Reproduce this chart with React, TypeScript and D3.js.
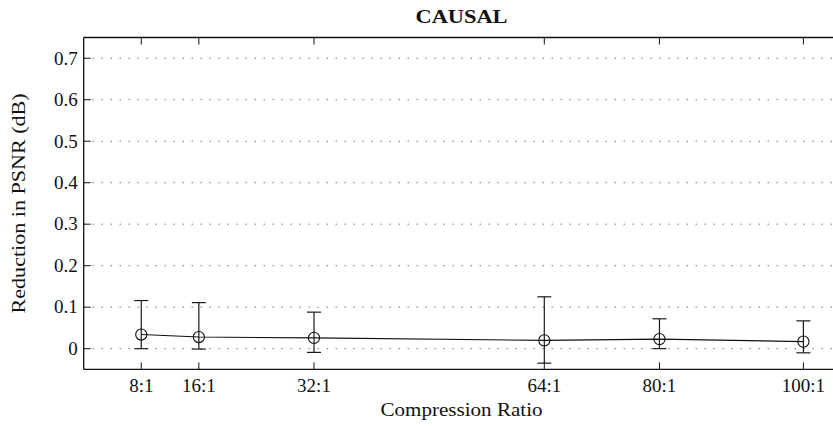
import React from "react";
import * as d3 from "d3";

// Compression ratios (N:1) and the mean PSNR reduction with its error range
const ratios = [8, 16, 32, 64, 80, 100];
const ratioLabels = ["8:1", "16:1", "32:1", "64:1", "80:1", "100:1"];
const meanReduction = [0.034, 0.028, 0.026, 0.02, 0.023, 0.017];
const upperBound = [0.116, 0.111, 0.088, 0.125, 0.072, 0.067];
const lowerBound = [0.0, -0.001, -0.009, -0.035, 0.0, -0.01];
const yTicks = [0, 0.1, 0.2, 0.3, 0.4, 0.5, 0.6, 0.7];

const W = 833;
const H = 426;
const FONT = "'Liberation Serif', 'DejaVu Serif', serif";
const FS = 19;

export default function App() {
  const left = 83.7;
  const top = 37.5;
  const bottom = 369.4;
  const x = d3.scaleLinear().domain([0, 105]).range([left, left + 105 * 7.197]);
  const right = x(105);
  const y = d3.scaleLinear().domain([-0.05, 0.75]).range([bottom, top]);
  const cx = (left + right) / 2;

  const line = d3
    .line<number>()
    .x((_, i) => x(ratios[i]))
    .y((d) => y(d));

  const tickLen = 7;
  const capHalf = 7;
  const ink = "#111";

  return (
    <svg
      width={W}
      height={H}
      style={{ position: "absolute", left: 0, top: 0, background: "#fff" }}
      fontFamily={FONT}
    >
      {/* horizontal dotted grid */}
      {yTicks.map((t) => (
        <line
          key={"g" + t}
          x1={left}
          x2={right}
          y1={y(t)}
          y2={y(t)}
          stroke="#333"
          strokeWidth={1}
          strokeDasharray="1,8"
        />
      ))}

      {/* frame */}
      <line x1={left} x2={left} y1={top} y2={bottom} stroke={ink} strokeWidth={1.3} />
      <line x1={left} x2={right} y1={top} y2={top} stroke={ink} strokeWidth={1.3} />
      <line x1={left} x2={right} y1={bottom} y2={bottom} stroke={ink} strokeWidth={1.3} />

      {/* y ticks and labels */}
      {yTicks.map((t) => (
        <g key={"y" + t}>
          <line x1={left} x2={left + tickLen} y1={y(t)} y2={y(t)} stroke={ink} strokeWidth={1} />
          <text x={left - 6} y={y(t) + 6.3} textAnchor="end" fontSize={FS} fill="#111">
            {t === 0 ? "0" : d3.format(".1f")(t)}
          </text>
        </g>
      ))}

      {/* x ticks (bottom and top) and labels */}
      {ratios.map((r, i) => (
        <g key={"x" + r}>
          <line x1={x(r)} x2={x(r)} y1={bottom} y2={bottom - tickLen} stroke={ink} strokeWidth={1} />
          <line x1={x(r)} x2={x(r)} y1={top} y2={top + tickLen} stroke={ink} strokeWidth={1} />
          <text x={x(r)} y={391.8} textAnchor="middle" fontSize={FS} fill="#111">
            {ratioLabels[i]}
          </text>
        </g>
      ))}

      {/* mean line */}
      <path d={line(meanReduction) || ""} fill="none" stroke={ink} strokeWidth={1.1} />

      {/* error bars and markers */}
      {ratios.map((r, i) => {
        const px = x(r);
        return (
          <g key={"e" + r} stroke="#1a1a1a" strokeWidth={1.2} fill="none">
            <line x1={px} x2={px} y1={y(upperBound[i])} y2={y(lowerBound[i])} />
            <line x1={px - capHalf} x2={px + capHalf} y1={y(upperBound[i])} y2={y(upperBound[i])} />
            <line x1={px - capHalf} x2={px + capHalf} y1={y(lowerBound[i])} y2={y(lowerBound[i])} />
            <circle cx={px} cy={y(meanReduction[i])} r={5.6} stroke={ink} strokeWidth={1.1} />
          </g>
        );
      })}

      {/* title and axis labels */}
      <text
        x={cx}
        y={23.3}
        textAnchor="middle"
        fontSize={FS}
        fontWeight="bold"
        textLength={92}
        lengthAdjust="spacingAndGlyphs"
        fill="#111"
      >
        CAUSAL
      </text>
      <text
        x={cx}
        y={415.5}
        textAnchor="middle"
        fontSize={FS}
        textLength={162}
        lengthAdjust="spacingAndGlyphs"
        fill="#111"
      >
        Compression Ratio
      </text>
      <text
        transform={`translate(25,${(top + bottom) / 2}) rotate(-90)`}
        textAnchor="middle"
        fontSize={FS}
        textLength={220}
        lengthAdjust="spacingAndGlyphs"
        fill="#111"
      >
        Reduction in PSNR (dB)
      </text>
    </svg>
  );
}
